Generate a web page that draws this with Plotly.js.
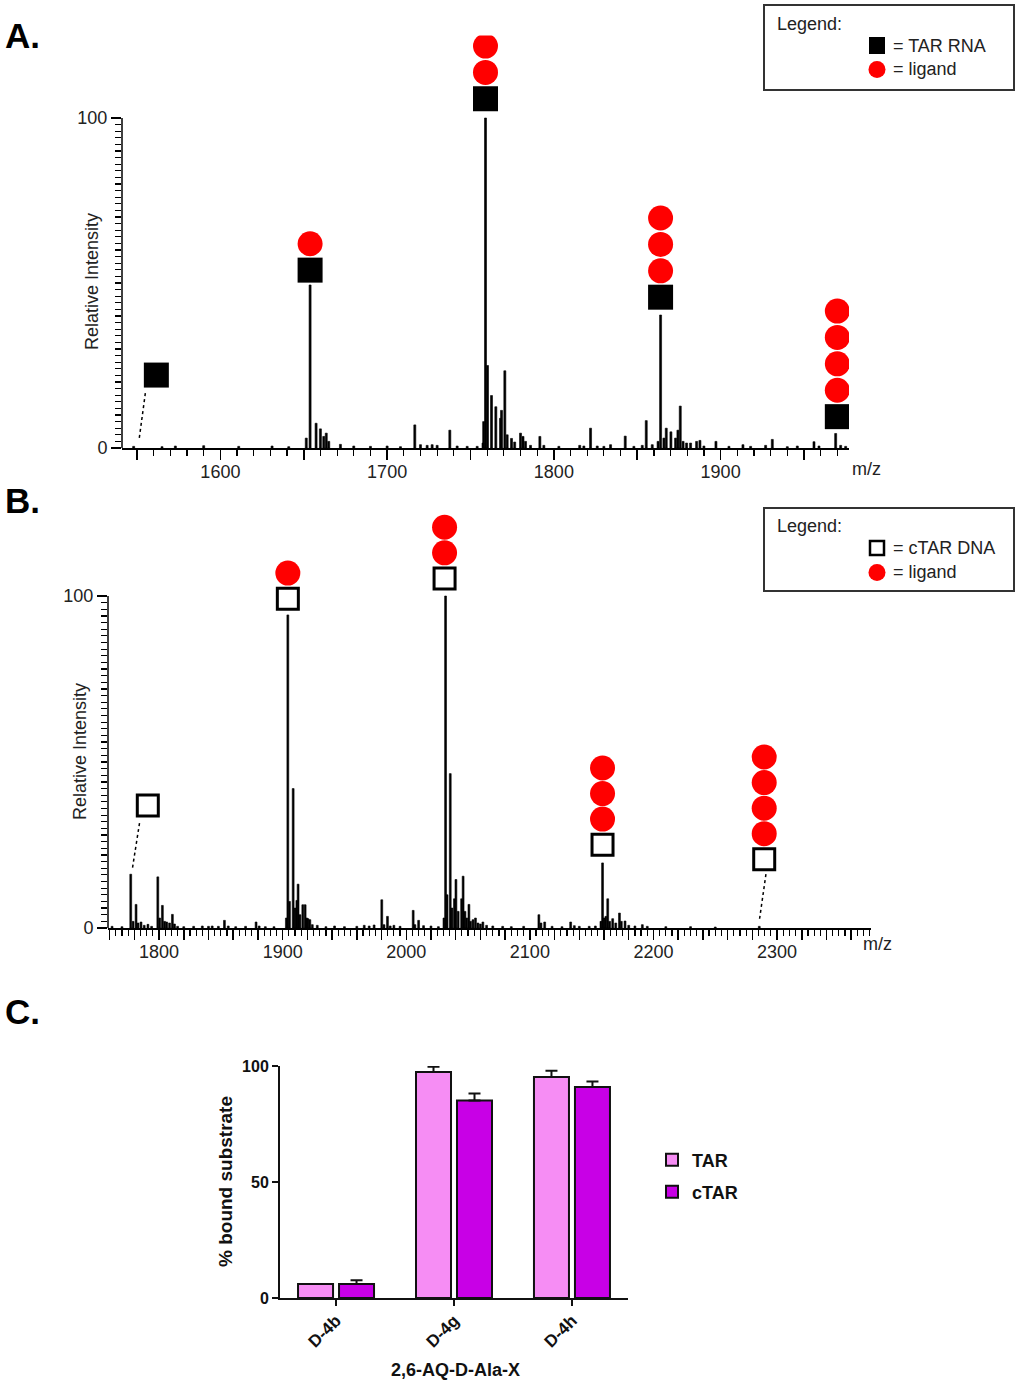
<!DOCTYPE html>
<html>
<head>
<meta charset="utf-8">
<script src="https://cdn.plot.ly/plotly-3.0.1.min.js"></script>
<style>
  body { margin: 0; background: #fff; }
  #fig { width: 1021px; height: 1386px; }
</style>
</head>
<body>
<div id="fig"></div>
<script>
// ---- A. TAR RNA spectrum: peak m/z and relative intensity ----
const tarMz = [1548, 1565, 1573, 1590, 1611, 1631, 1641,
  1651.5, 1653.8, 1657.4, 1660, 1662, 1663.5, 1665, 1672, 1680, 1690, 1700, 1708,
  1716.6, 1720, 1724, 1727, 1730, 1737.6, 1742, 1748, 1754, 1757.5,
  1757.9, 1759, 1760.2, 1762.6, 1765.2, 1768, 1768.6, 1770.6, 1772, 1774.6, 1776.5, 1780, 1781.5, 1783, 1786,
  1791.6, 1794, 1803, 1815.5, 1818, 1822, 1826, 1830, 1834, 1842.8, 1848, 1853, 1855.4, 1859, 1862.5,
  1864, 1866, 1867.4, 1870.2, 1873, 1874.4, 1875.8, 1877.5, 1879.6, 1882, 1885.6, 1887.6, 1890,
  1897.2, 1905, 1913.4, 1918, 1927, 1931, 1940, 1946, 1956, 1959, 1969, 1972, 1975];
const tarInt = [0.5, 0.4, 0.6, 0.7, 0.5, 0.6, 0.4,
  3, 49.4, 7.5, 5.8, 3.5, 4.5, 2, 1.1, 0.6, 0.5, 0.6, 0.4,
  7.0, 1, 0.8, 1, 0.8, 5.4, 0.6, 0.5, 0.5, 1.5,
  8, 100, 25, 15.9, 12.5, 9, 11.4, 23.4, 4, 2.9, 1.8, 4.5, 3.5, 2, 0.8,
  3.5, 0.8, 0.5, 0.8, 0.6, 6.0, 0.6, 0.5, 1, 3.6, 0.5, 0.8, 8.3, 1, 2,
  40.3, 3, 6.0, 4.9, 3, 5.4, 12.7, 2, 1.5, 1.5, 2, 2.3, 0.6,
  2, 0.5, 1, 0.5, 0.8, 2.6, 0.4, 0.6, 1.9, 0.6, 4.4, 0.8, 0.5];

// labelled species in A: square position and number of ligands stacked above
const tarLabelMz = [1561.6, 1653.8, 1759, 1864, 1970];
const tarLabelY = [22.1, 53.9, 105.8, 45.7, 9.5];
const tarLigands = [0, 1, 2, 3, 4];
const tarConnector = [1555, 16.6, 1551.2, 2.4];

const tarTickVals = [1550, 1600, 1650, 1700, 1750, 1800, 1850, 1900, 1950];
const tarTickText = ['', '1600', '', '1700', '', '1800', '', '1900', ''];

// ---- B. cTAR DNA spectrum ----
const ctarMz = [1762, 1770,
  1777.1, 1779, 1781.4, 1783, 1785.4, 1788, 1791, 1794,
  1799, 1800.5, 1802.7, 1804.5, 1806.2, 1808.5, 1810.8, 1812.5, 1815, 1820, 1828, 1835, 1840, 1843, 1848,
  1852.9, 1856, 1862, 1870, 1878.5, 1881, 1886, 1893,
  1903, 1904.2, 1905.5, 1908.5, 1910, 1911.5, 1912.5, 1914, 1916.3, 1918.2, 1919.5, 1920.5, 1922, 1924, 1928,
  1935, 1942, 1950, 1960, 1966, 1970, 1974,
  1980.2, 1982, 1984.8, 1987, 1990, 1995, 2005.6, 2007, 2010, 2014, 2020, 2026,
  2030.5, 2031.8, 2033, 2035.6, 2037, 2039, 2040.2, 2042, 2044.8, 2046, 2047.5, 2049, 2050.7, 2052, 2054, 2056,
  2058, 2060, 2062, 2065, 2070, 2078, 2085, 2095,
  2107.3, 2109, 2112, 2118, 2126, 2133, 2136, 2140, 2148, 2153,
  2157.5, 2158.8, 2160, 2161.5, 2163, 2164.5, 2167, 2169.5, 2172.5, 2174, 2177, 2180, 2185, 2191, 2195,
  2210, 2230, 2250, 2285.6];
const ctarInt = [0.5, 0.4,
  16.2, 2, 7.1, 1.5, 1.8, 0.8, 1.1, 0.5,
  15.4, 3, 6.8, 2, 1.8, 1.5, 4.1, 1.2, 0.5, 0.4, 0.5, 0.6, 0.5, 0.6, 0.5,
  2.3, 0.6, 0.4, 0.5, 1.8, 0.6, 0.4, 0.4,
  3, 94.3, 8, 42, 6, 8.3, 13.2, 4, 7, 7, 3, 2.8, 2.5, 1, 0.8,
  0.4, 0.6, 0.4, 0.5, 0.8, 0.6, 0.9,
  8.5, 1, 3.5, 0.6, 0.8, 0.5, 5.3, 1, 2.3, 0.7, 0.6, 0.4,
  3, 100, 10, 46.5, 6, 8.8, 14.6, 5, 8.8, 15.6, 5, 3, 7.1, 2, 2.5, 3,
  1.5, 1.2, 1.8, 0.8, 0.6, 0.5, 0.4, 0.5,
  4.0, 1.5, 1.8, 0.5, 0.4, 1.8, 0.7, 0.5, 0.5, 0.6,
  2, 19.6, 3, 3.5, 8.8, 2, 2.8, 1.5, 4.5, 2, 2.1, 0.8, 0.6, 1, 0.5,
  0.4, 0.4, 0.3, 0.5];

const ctarLabelMz = [1790.9, 1904.2, 2031, 2158.8, 2289.6];
const ctarLabelY = [36.9, 99.2, 105.3, 25.1, 20.7];
const ctarLigands = [0, 1, 2, 3, 4];
const ctarConnectors = [[1784.2, 31.6, 1778.3, 17.6], [2291, 16.2, 2285.6, 2.1]];

const ctarTickVals = [1760, 1780, 1800, 1820, 1840, 1860, 1880, 1900, 1920, 1940, 1960, 1980, 2000,
  2020, 2040, 2060, 2080, 2100, 2120, 2140, 2160, 2180, 2200, 2220, 2240, 2260, 2280, 2300,
  2320, 2340, 2360];
const ctarTickText = ctarTickVals.map(v => v % 100 === 0 ? String(v) : '');

const intTickVals = [0, 10, 20, 30, 40, 50, 60, 70, 80, 90, 100];
const intTickText = ['0', '', '', '', '', '', '', '', '', '', '100'];
// minor intensity ticks every 2 units, 0..100 only
const intMinorVals = Array.from({ length: 51 }, (_, i) => i * 2);

// ---- C. % bound substrate ----
const compounds = ['D-4b', 'D-4g', 'D-4h'];
const tarBound = [6.0, 97.4, 95.3];
const tarErr = [0, 2.3, 2.7];
const ctarBound = [6.0, 85.1, 91.0];
const ctarErr = [1.6, 3.0, 2.3];

// ---------------------------------------------------------------
const W = 1021, H = 1386;
const px = x => x / W;
const py = y => 1 - y / H;
const FONT = 'Liberation Sans, Arial, sans-serif';

function labelTraces(mz, sqY, nLig, step, xa, ya, open) {
  const cx = [], cy = [];
  mz.forEach((m, i) => {
    for (let k = 1; k <= nLig[i]; k++) { cx.push(m); cy.push(sqY[i] + k * step); }
  });
  const sq = open
    ? { symbol: 'square', size: 21, color: '#fff', line: { color: '#000', width: 3 } }
    : { symbol: 'square', size: 25, color: '#000', line: { width: 0 } };
  return [
    { type: 'scatter', mode: 'markers', x: mz, y: sqY, xaxis: xa, yaxis: ya,
      showlegend: false, hoverinfo: 'skip', marker: sq },
    { type: 'scatter', mode: 'markers', x: cx, y: cy, xaxis: xa, yaxis: ya,
      showlegend: false, hoverinfo: 'skip',
      marker: { symbol: 'circle', size: 25, color: '#ff0000', line: { width: 0 } } }
  ];
}

const data = [
  { type: 'bar', x: tarMz, y: tarInt, width: 1.2, xaxis: 'x', yaxis: 'y',
    marker: { color: '#000', line: { color: '#000', width: 0.6 } }, showlegend: false, hoverinfo: 'skip' },
  ...labelTraces(tarLabelMz, tarLabelY, tarLigands, 8.0, 'x', 'y', false),
  { type: 'bar', x: ctarMz, y: ctarInt, width: 1.5, xaxis: 'x2', yaxis: 'y2',
    marker: { color: '#000', line: { color: '#000', width: 0.6 } }, showlegend: false, hoverinfo: 'skip' },
  ...labelTraces(ctarLabelMz, ctarLabelY, ctarLigands, 7.7, 'x2', 'y2', true),
  { type: 'bar', name: 'TAR', x: compounds, y: tarBound, xaxis: 'x3', yaxis: 'y3', legend: 'legend',
    marker: { color: '#F68DF4', line: { color: '#111', width: 2 } },
    error_y: { type: 'data', symmetric: false, array: tarErr, arrayminus: [0, 0, 0], color: '#111', thickness: 2, width: 6 } },
  { type: 'bar', name: 'cTAR', x: compounds, y: ctarBound, xaxis: 'x3', yaxis: 'y3', legend: 'legend2',
    marker: { color: '#C800E6', line: { color: '#111', width: 2 } },
    error_y: { type: 'data', symmetric: false, array: ctarErr, arrayminus: [0, 0, 0], color: '#111', thickness: 2, width: 6 } }
];

const specFont = { family: FONT, size: 18, color: '#222' };

function specX(domain, range, vals, text, minorStep, anchor) {
  return {
    domain: domain, range: range, anchor: anchor, showline: true, linecolor: '#000', linewidth: 1.5,
    ticks: 'outside', ticklen: 10, tickwidth: 1.5, tickcolor: '#000', ticklabelstandoff: -3,
    tickmode: 'array', tickvals: vals, ticktext: text, tickfont: specFont,
    minor: { ticks: 'outside', ticklen: 6, tickwidth: 1.2, tickcolor: '#000', dtick: minorStep, tick0: 1500 },
    showgrid: false, zeroline: false, fixedrange: true
  };
}
// y range runs above 100 so the ligand stacks fit; the axis line itself stops at 100 (drawn as a shape)
function specY(domain, anchor) {
  return {
    domain: domain, range: [0, 125], anchor: anchor, showline: false,
    ticks: 'outside', ticklen: 10, tickwidth: 1.5, tickcolor: '#000',
    tickmode: 'array', tickvals: intTickVals, ticktext: intTickText, tickfont: specFont,
    minor: { ticks: 'outside', ticklen: 6, tickwidth: 1.2, tickcolor: '#000', tickmode: 'array', tickvals: intMinorVals },
    showgrid: false, zeroline: false, fixedrange: true
  };
}

const shapes = [
  // y-axis lines of the spectra, 0..100 only
  { type: 'line', xref: 'x domain', yref: 'y', x0: 0, x1: 0, y0: 0, y1: 100, line: { color: '#000', width: 1.5 } },
  { type: 'line', xref: 'x2 domain', yref: 'y2', x0: 0, x1: 0, y0: 0, y1: 100, line: { color: '#000', width: 1.5 } },
  // connectors from free-strand squares down to their peaks
  { type: 'line', xref: 'x', yref: 'y', x0: tarConnector[0], y0: tarConnector[1], x1: tarConnector[2], y1: tarConnector[3],
    line: { color: '#000', width: 1.5, dash: 'dot' } },
  ...ctarConnectors.map(c => ({ type: 'line', xref: 'x2', yref: 'y2', x0: c[0], y0: c[1], x1: c[2], y1: c[3],
    line: { color: '#000', width: 1.5, dash: 'dot' } })),
  // legend box A
  { type: 'rect', xref: 'paper', yref: 'paper', x0: px(764), x1: px(1014), y0: py(5), y1: py(90),
    line: { color: '#333', width: 2 }, fillcolor: 'rgba(0,0,0,0)' },
  { type: 'rect', xref: 'paper', yref: 'paper', x0: px(869), x1: px(885), y0: py(37), y1: py(54),
    line: { width: 0 }, fillcolor: '#000' },
  { type: 'circle', xref: 'paper', yref: 'paper', x0: px(868.5), x1: px(885.5), y0: py(61), y1: py(78),
    line: { width: 0 }, fillcolor: '#ff0000' },
  // legend box B
  { type: 'rect', xref: 'paper', yref: 'paper', x0: px(764), x1: px(1014), y0: py(508), y1: py(591),
    line: { color: '#333', width: 2 }, fillcolor: 'rgba(0,0,0,0)' },
  { type: 'rect', xref: 'paper', yref: 'paper', x0: px(870), x1: px(884), y0: py(541), y1: py(555),
    line: { color: '#000', width: 2.5 }, fillcolor: '#fff' },
  { type: 'circle', xref: 'paper', yref: 'paper', x0: px(868.5), x1: px(885.5), y0: py(564), y1: py(581),
    line: { width: 0 }, fillcolor: '#ff0000' }
];

function note(text, x, y, opts) {
  return Object.assign({ text: text, xref: 'paper', yref: 'paper', x: px(x), y: py(y),
    xanchor: 'left', yanchor: 'middle', showarrow: false, font: { family: FONT, size: 18, color: '#222' } }, opts || {});
}

const annotations = [
  note('<b>A.</b>', 3, 35, { font: { family: FONT, size: 35, color: '#000' } }),
  note('<b>B.</b>', 3, 500, { font: { family: FONT, size: 35, color: '#000' } }),
  note('<b>C.</b>', 3, 1011, { font: { family: FONT, size: 35, color: '#000' } }),
  note('Relative Intensity', 92, 282, { xanchor: 'center', textangle: -90 }),
  note('Relative Intensity', 80, 752, { xanchor: 'center', textangle: -90 }),
  note('m/z', 850, 469),
  note('m/z', 861, 944),
  note('Legend:', 775, 24),
  note('= TAR RNA', 891, 46),
  note('= ligand', 891, 69),
  note('Legend:', 775, 526),
  note('= cTAR DNA', 891, 548),
  note('= ligand', 891, 572),
  note('<b>% bound substrate</b>', 225, 1182, { xanchor: 'center', textangle: -90, font: { family: FONT, size: 19, color: '#111' } }),
  note('<b>2,6-AQ-D-Ala-X</b>', 455, 1370, { xanchor: 'center', font: { family: FONT, size: 18, color: '#111' } })
];

const boldFont = { family: FONT, size: 16, color: '#111', weight: 'bold' };

const layout = {
  width: W, height: H,
  margin: { l: 0, r: 0, t: 0, b: 0 },
  paper_bgcolor: '#fff', plot_bgcolor: 'rgba(0,0,0,0)',
  font: { family: FONT, color: '#222' },
  bargap: 0.305, bargroupgap: 0.146, barmode: 'group',
  xaxis: specX([px(122), px(849)], [1541, 1977], tarTickVals, tarTickText, 10, 'y'),
  yaxis: specY([py(448), py(35.5)], 'x'),
  xaxis2: specX([px(108), px(871)], [1758.7, 2376], ctarTickVals, ctarTickText, 5, 'y2'),
  yaxis2: specY([py(928), py(513)], 'x2'),
  xaxis3: {
    domain: [px(280), px(628)], anchor: 'y3', type: 'category', range: [-0.475, 2.475],
    showline: true, linecolor: '#111', linewidth: 2, ticks: 'outside', ticklen: 6, tickwidth: 2, tickcolor: '#111',
    tickangle: -45, ticklabelstandoff: -2, tickfont: { family: FONT, size: 17, color: '#111', weight: 'bold' },
    showgrid: false, zeroline: false, fixedrange: true
  },
  yaxis3: {
    domain: [py(1298), py(1066)], anchor: 'x3', range: [0, 100],
    showline: true, linecolor: '#111', linewidth: 2, ticks: 'outside', ticklen: 6, tickwidth: 2, tickcolor: '#111',
    tickvals: [0, 50, 100], tickfont: boldFont,
    showgrid: false, zeroline: false, fixedrange: true
  },
  legend: { x: px(652), y: py(1160), xanchor: 'left', yanchor: 'middle', bgcolor: 'rgba(0,0,0,0)',
    font: { family: FONT, size: 18, color: '#111', weight: 'bold' } },
  legend2: { x: px(652), y: py(1192), xanchor: 'left', yanchor: 'middle', bgcolor: 'rgba(0,0,0,0)',
    font: { family: FONT, size: 18, color: '#111', weight: 'bold' } },
  shapes: shapes,
  annotations: annotations,
  showlegend: true
};

Plotly.newPlot('fig', data, layout, { staticPlot: true });
</script>
</body>
</html>
